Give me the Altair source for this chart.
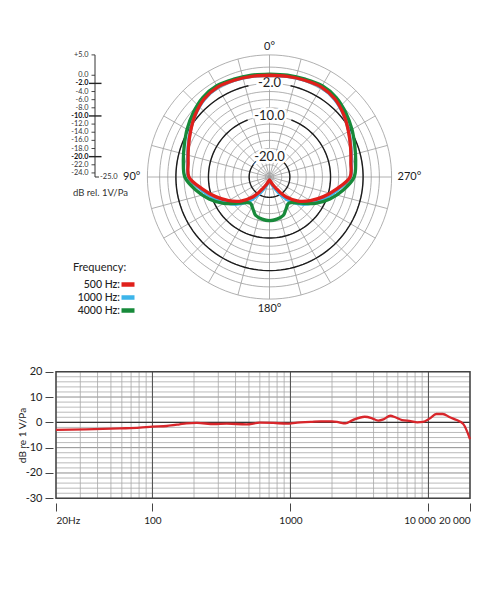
import altair as alt
import numpy as np
import pandas as pd

# ---------------------------------------------------------------- data
# polar pattern (dB), angles measured from 0 deg (top) towards 90 deg (left);
# the pattern is symmetric, the right half mirrors the left half
POLAR_ANGLES = [0, 10, 20, 30, 40, 50, 60, 70, 80, 90, 100, 110, 120, 130,
                140, 145, 150, 155, 160, 170, 180]
DB_500 = [0.0, 0.1, 0.3, 0.5, 0.0, -1.2, -2.6, -3.8, -4.7, -5.2, -8.2, -10.9,
          -13.4, -15.8, -18.6, -20.2, -21.8, -22.7, -23.3, -24.0, -24.3]
DB_1000 = [0.0, 0.1, 0.3, 0.4, -0.1, -1.2, -2.5, -3.7, -4.6, -5.1, -7.8, -10.2,
           -12.4, -14.6, -17.3, -19.0, -20.6, -21.9, -22.8, -23.8, -24.2]
DB_4000 = [0.3, 0.4, 0.6, 0.9, 0.5, -0.5, -1.6, -2.7, -3.5, -4.2, -6.6, -9.2,
           -12.0, -15.0, -16.8, -17.0, -16.5, -15.8, -15.0, -14.5, -14.3]
SERIES = ["500 Hz", "1000 Hz", "4000 Hz"]
COLORS = ["#e0201b", "#3db5ea", "#178a3a"]

DB_FLOOR = -25.0
DB_TOP = 5.0
RING_DB = [5, 2, 0, -2, -4, -6, -8, -10, -12, -14, -16, -18, -20, -22, -24]
LABEL_RINGS = [-2, -10, -20]
RING_LABELS = ["-2.0", "-10.0", "-20.0"]
SPOKES = list(range(0, 360, 15))
ANGLE_VALUES = [0, 90, 180, 270]
ANGLE_LABELS = ["0°", "90°", "180°", "270°"]

SCALE_TICKS = [5, 0, -2, -4, -6, -8, -10, -12, -14, -16, -18, -20, -22, -24]
SCALE_LABELS = ["+5.0", "0.0", "-2.0", "-4.0", "-6.0", "-8.0", "-10.0", "-12.0",
                "-14.0", "-16.0", "-18.0", "-20.0", "-22.0", "-24.0"]
SCALE_MAJOR = [-2, -10, -20]
SCALE_UNIT = "dB rel. 1V/Pa"
FLOOR_LABEL = "-25.0"
LEGEND_TITLE = "Frequency:"

# frequency response
FREQ = [20, 33, 58, 81, 100, 127, 157, 176, 210, 280, 345, 480, 600, 750, 940,
        1120, 1400, 1650, 2000, 2250, 2500, 2830, 3450, 3870, 4330, 4720, 5290,
        5750, 6440, 7430, 8300, 9100, 10200, 11400, 12700, 14300, 16000, 17900,
        20000]
RESP = [-3.0, -2.8, -2.4, -2.1, -1.7, -1.45, -0.8, -0.4, -0.25, -0.65, -0.5,
        -0.8, -0.15, -0.25, -0.5, -0.1, 0.15, 0.4, 0.4, 0.0, -0.4, 0.9, 2.2,
        1.7, 0.7, 1.2, 2.6, 2.0, 0.9, 0.5, 0.0, 0.15, 1.5, 3.3, 3.3, 2.0, 0.9,
        -0.7, -6.6]
FR_Y_TICKS = [20, 10, 0, -10, -20, -30]
FR_X_TICKS = [20, 100, 1000, 10000, 20000]
FR_X_LABELS = ["20Hz", "100", "1000", "10 000", "20 000"]
FR_H_GRID = list(range(-30, 21, 2))
FR_H_MAJOR = [-20, -10, 10]
FR_V_GRID = ([20, 30, 40, 50, 60, 70, 80, 90] + [100 * i for i in range(1, 10)]
             + [1000 * i for i in range(1, 10)] + [10000, 20000])
FR_V_MAJOR = [100, 1000, 10000]
FR_Y_TITLE = "dB re 1 V/Pa"

# ---------------------------------------------------------------- layout / style
FONT = "Lato"
W, H = 484, 584
CX, CY, K = 261.5, 169.0, 4.07          # polar centre (px) and px per dB
SPAN = DB_TOP - DB_FLOOR
GRAY = "#9c9c9c"
DARK = "#1c1c1c"
RING_GAP = {-2: 13, -10: 21, -20: 41}

POLAR_X = alt.Scale(domain=[0, SPAN], range=[CX, CX + SPAN * K], nice=False, zero=False)
POLAR_Y = alt.Scale(domain=[0, SPAN], range=[CY, CY - SPAN * K], nice=False, zero=False)
FR_X = alt.Scale(type="log", domain=[20, 20000], range=[48, 462], nice=False)
FR_Y = alt.Scale(domain=[-30, 20], range=[490.3, 363.7], nice=False, zero=False)
COLOR = alt.Scale(domain=SERIES, range=COLORS)


def polar(ch):
    return ch.transform_calculate(
        r=f"datum.db - ({DB_FLOOR})"
    ).transform_calculate(
        px="-datum.r * sin(datum.angle * PI / 180)",
        py="datum.r * cos(datum.angle * PI / 180)",
    )


def pxy():
    return dict(x=alt.X("px:Q", scale=POLAR_X, axis=None),
                y=alt.Y("py:Q", scale=POLAR_Y, axis=None))


# --- curves
rows = []
for name, vals in zip(SERIES, [DB_500, DB_1000, DB_4000]):
    ang = POLAR_ANGLES + [360 - a for a in reversed(POLAR_ANGLES[:-1])]
    dbs = vals + list(reversed(vals[:-1]))
    for i, (a, d) in enumerate(zip(ang, dbs)):
        rows.append({"series": name, "idx": i, "angle": a, "db": d})
curves = pd.DataFrame(rows)

# --- rings
ring_rows = []
for d in RING_DB:
    for i, a in enumerate(np.arange(0, 361, 3)):
        ring_rows.append({"ring": d, "idx": i, "angle": float(a), "db": d})
rings = pd.DataFrame(ring_rows)

black_rows = []
for d in LABEL_RINGS:
    g = RING_GAP[d]
    for i, a in enumerate(np.linspace(g, 360 - g, 120)):
        black_rows.append({"ring": d, "idx": i, "angle": float(a), "db": d})
black = pd.DataFrame(black_rows)

spokes = pd.DataFrame({"angle": SPOKES, "db": DB_TOP})
ring_lab = pd.DataFrame({"db": LABEL_RINGS, "label": RING_LABELS, "angle": 0})
ang_lab = pd.DataFrame({"angle": ANGLE_VALUES, "label": ANGLE_LABELS, "db": DB_TOP})
scale_df = pd.DataFrame({"db": SCALE_TICKS, "label": SCALE_LABELS})
scale_df["major"] = scale_df["db"].isin(SCALE_MAJOR)

layers = []

# ---------------------------------------------------------------- frequency response (first: owns the axes)
xlab_expr = " : ".join(
    f"datum.value == {v} ? '{l}'" for v, l in zip(FR_X_TICKS, FR_X_LABELS)) + " : ''"

hgrid_df = pd.DataFrame({"v": FR_H_GRID})
hgrid_df["major"] = hgrid_df["v"].isin(FR_H_MAJOR)
layers.append(alt.Chart(hgrid_df).transform_filter("!datum.major").transform_calculate(
    lo="20", hi="20000").mark_rule(stroke="#a8a8a8", strokeWidth=0.8).encode(
    y=alt.Y("v:Q", scale=FR_Y, axis=alt.Axis(
        orient="left", offset=-45, values=FR_Y_TICKS, labelExpr="datum.value + ''",
        tickSize=8, tickColor="#444", tickWidth=1, labelPadding=3, domain=False,
        grid=False, labelFont=FONT, labelFontSize=11, labelColor="#222",
        labelOverlap=False,
        title=FR_Y_TITLE, titleFont=FONT, titleFontSize=10, titleFontWeight="normal",
        titleColor="#222", titlePadding=-2)),
    x=alt.X("lo:Q", scale=FR_X, axis=None), x2="hi:Q"))
layers.append(alt.Chart(hgrid_df).transform_filter("datum.major").transform_calculate(
    lo="20", hi="20000").mark_rule(stroke="#808080", strokeWidth=0.9).encode(
    y=alt.Y("v:Q", scale=FR_Y, axis=None),
    x=alt.X("lo:Q", scale=FR_X, axis=None), x2="hi:Q"))

vgrid_df = pd.DataFrame({"f": FR_V_GRID})
vgrid_df["major"] = vgrid_df["f"].isin(FR_V_MAJOR)
layers.append(alt.Chart(vgrid_df).transform_filter("!datum.major").transform_calculate(
    lo="-30", hi="20").mark_rule(stroke="#a8a8a8", strokeWidth=0.8).encode(
    x=alt.X("f:Q", scale=FR_X, axis=alt.Axis(
        orient="bottom", offset=-89, values=FR_X_TICKS, labelExpr=xlab_expr,
        tickSize=8, tickColor="#444", tickWidth=1, labelPadding=4, domain=False,
        grid=False, labelFont=FONT, labelFontSize=10, labelColor="#222",
        labelOffset={"condition": {"test": "datum.value == 10000", "value": -9},
                     "value": 0},
        labelOverlap=False, labelBound=False, title=None)),
    y=alt.Y("lo:Q", scale=FR_Y, axis=None), y2="hi:Q"))
layers.append(alt.Chart(vgrid_df).transform_filter("datum.major").transform_calculate(
    lo="-30", hi="20").mark_rule(stroke="#555", strokeWidth=1.1).encode(
    x=alt.X("f:Q", scale=FR_X, axis=None), y=alt.Y("lo:Q", scale=FR_Y, axis=None), y2="hi:Q"))
layers.append(alt.Chart(pd.DataFrame({"v": [0]})).transform_calculate(
    lo="20", hi="20000").mark_rule(stroke="#333", strokeWidth=1.4).encode(
    y=alt.Y("v:Q", scale=FR_Y, axis=None), x=alt.X("lo:Q", scale=FR_X, axis=None), x2="hi:Q"))
layers.append(alt.Chart(pd.DataFrame({"x0": [20], "x1": [20000], "y0": [-30], "y1": [20]})).mark_rect(
    fillOpacity=0, stroke="#444", strokeWidth=1.5).encode(
    x=alt.X("x0:Q", scale=FR_X, axis=None), x2="x1:Q",
    y=alt.Y("y0:Q", scale=FR_Y, axis=None), y2="y1:Q"))
layers.append(alt.Chart(pd.DataFrame({"f": FREQ, "db": RESP})).mark_line(
    stroke="#d8262b", strokeWidth=2.3, interpolate="monotone").encode(
    x=alt.X("f:Q", scale=FR_X, axis=None), y=alt.Y("db:Q", scale=FR_Y, axis=None)))

# ---------------------------------------------------------------- polar layers
layers.append(polar(alt.Chart(rings)).mark_line(stroke=GRAY, strokeWidth=0.8).encode(
    detail="ring:N", order="idx:Q", **pxy()))

layers.append(alt.Chart(spokes).transform_calculate(
    r=f"datum.db - ({DB_FLOOR})"
).transform_calculate(
    x0="0", y0="0",
    x1="-datum.r * sin(datum.angle * PI / 180)",
    y1="datum.r * cos(datum.angle * PI / 180)",
).mark_rule(stroke=GRAY, strokeWidth=0.8).encode(
    x=alt.X("x0:Q", scale=POLAR_X, axis=None), y=alt.Y("y0:Q", scale=POLAR_Y, axis=None),
    x2="x1:Q", y2="y1:Q"))

layers.append(polar(alt.Chart(black)).mark_line(stroke=DARK, strokeWidth=1.4).encode(
    detail="ring:N", order="idx:Q", **pxy()))

layers.append(polar(alt.Chart(ring_lab)).mark_text(
    font=FONT, fontSize=13, stroke="white", strokeWidth=5, fill="white"
).encode(text="label:N", **pxy()))
layers.append(polar(alt.Chart(ring_lab)).mark_text(
    font=FONT, fontSize=13, color=DARK
).encode(text="label:N", **pxy()))

for name in ["1000 Hz", "4000 Hz", "500 Hz"]:
    layers.append(
        polar(alt.Chart(curves)).transform_filter(f"datum.series == '{name}'")
        .mark_line(strokeWidth=3.3, interpolate="catmull-rom", strokeJoin="round")
        .encode(color=alt.Color("series:N", scale=COLOR, legend=None),
                order="idx:Q", **pxy()))


def ang_text(angle, **kw):
    return polar(alt.Chart(ang_lab)).transform_filter(f"datum.angle == {angle}").mark_text(
        font=FONT, fontSize=11, color=DARK, **kw).encode(text="label:N", **pxy())


layers += [
    ang_text(0, align="center", baseline="bottom", dy=-3),
    ang_text(180, align="center", baseline="top", dy=4),
    ang_text(90, align="right", baseline="middle", dx=-7),
    ang_text(270, align="left", baseline="middle", dx=6),
]

BAR_X = 87
bar_df = pd.DataFrame({"lo": [DB_FLOOR - DB_FLOOR], "hi": [DB_TOP - DB_FLOOR]})
layers.append(alt.Chart(bar_df).mark_rule(stroke="#333", strokeWidth=1).encode(
    x=alt.value(BAR_X), y=alt.Y("lo:Q", scale=POLAR_Y, axis=None), y2="hi:Q"))
layers.append(alt.Chart(bar_df).mark_rule(stroke="#333", strokeWidth=1).encode(
    x=alt.value(BAR_X), x2=alt.value(BAR_X + 4), y=alt.Y("lo:Q", scale=POLAR_Y, axis=None)))
layers.append(alt.Chart(pd.DataFrame({"lo": [0.0], "t": [FLOOR_LABEL]})).mark_text(
    font=FONT, fontSize=7.5, color="#333", align="left", baseline="middle").encode(
    x=alt.value(BAR_X + 5), y=alt.Y("lo:Q", scale=POLAR_Y, axis=None), text="t:N"))

scale_base = alt.Chart(scale_df).transform_calculate(r=f"datum.db - ({DB_FLOOR})")
layers.append(scale_base.transform_filter("!datum.major").mark_rule(
    stroke="#333", strokeWidth=0.9).encode(
    x=alt.value(BAR_X - 3.5), x2=alt.value(BAR_X), y=alt.Y("r:Q", scale=POLAR_Y, axis=None)))
layers.append(scale_base.transform_filter("datum.major").mark_rule(
    stroke="#222", strokeWidth=1.4).encode(
    x=alt.value(BAR_X - 6), x2=alt.value(BAR_X + 6.5), y=alt.Y("r:Q", scale=POLAR_Y, axis=None)))
layers.append(scale_base.transform_filter("!datum.major").mark_text(
    font=FONT, fontSize=7.3, color="#333", align="right", baseline="middle").encode(
    x=alt.value(BAR_X - 6.5), y=alt.Y("r:Q", scale=POLAR_Y, axis=None), text="label:N"))
layers.append(scale_base.transform_filter("datum.major").mark_text(
    font=FONT, fontSize=7.3, fontWeight="bold", color="#111", align="right",
    baseline="middle").encode(
    x=alt.value(BAR_X - 6.5), y=alt.Y("r:Q", scale=POLAR_Y, axis=None), text="label:N"))
layers.append(alt.Chart(pd.DataFrame({"t": [SCALE_UNIT]})).mark_text(
    font=FONT, fontSize=9.5, color="#333", align="left", baseline="middle").encode(
    x=alt.value(65), y=alt.value(185), text="t:N"))

# ---------------------------------------------------------------- legend
LEG_Y = alt.Scale(type="point", domain=SERIES, range=[276.5, 302.5], padding=0)
leg_df = pd.DataFrame({"series": SERIES})
layers.append(alt.Chart(pd.DataFrame({"t": [LEGEND_TITLE]})).mark_text(
    font=FONT, fontSize=11, color="#222", align="left", baseline="middle").encode(
    x=alt.value(65), y=alt.value(260), text="t:N"))
layers.append(alt.Chart(leg_df).transform_calculate(t="datum.series + ':'").mark_text(
    font=FONT, fontSize=10.5, fontWeight=500, color="#222", align="right",
    baseline="middle").encode(
    x=alt.value(112), y=alt.Y("series:N", scale=LEG_Y, axis=None), text="t:N"))
layers.append(alt.Chart(leg_df).mark_rule(strokeWidth=4.5, strokeCap="butt").encode(
    x=alt.value(113.5), x2=alt.value(126.5),
    y=alt.Y("series:N", scale=LEG_Y, axis=None),
    color=alt.Color("series:N", scale=COLOR, legend=None)))

chart = alt.layer(*layers).resolve_scale(
    x="independent", y="independent"
).properties(
    width=W, height=H, padding={"left": 0, "top": 0, "right": 0, "bottom": 0}
).configure_view(stroke=None)

chart.save("out.html", embed_options={"renderer": "svg", "actions": False})
